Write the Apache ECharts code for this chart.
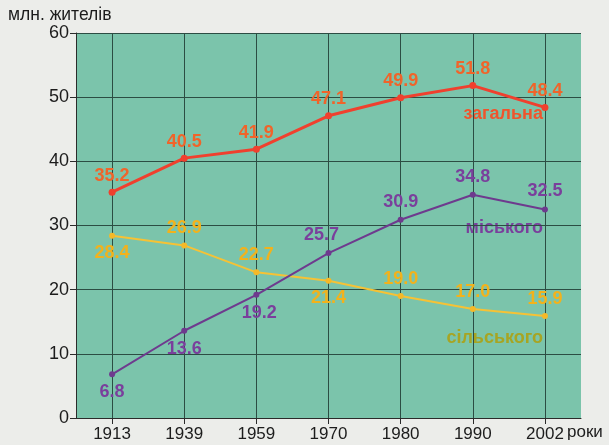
<!DOCTYPE html>
<html><head><meta charset="utf-8">
<script src="https://cdn.jsdelivr.net/npm/echarts@6/dist/echarts.min.js"></script>
<style>html,body{margin:0;padding:0;background:#ecedea;}#c{width:609px;height:445px;}</style>
</head><body><div id="c"></div>
<script>
const years = ['1913','1939','1959','1970','1980','1990','2002'];
const totalPop = [35.2, 40.5, 41.9, 47.1, 49.9, 51.8, 48.4];
const urbanPop = [6.8, 13.6, 19.2, 25.7, 30.9, 34.8, 32.5];
const ruralPop = [28.4, 26.9, 22.7, 21.4, 19.0, 17.0, 15.9];
const yTicks = [0, 10, 20, 30, 40, 50, 60];

const urbanLabelPos = ['bottom','bottom','bottom','top','top','top','top'];
const ruralLabelPos = ['bottom','top','top','bottom','top','top','top'];
const font = '"Liberation Sans", Arial, sans-serif';

function mk(vals, positions, offsets) {
  return vals.map((v, i) => ({
    value: v,
    label: {
      position: positions ? positions[i] : 'top',
      offset: offsets ? offsets[i] : [0, 0]
    }
  }));
}
const fmt = p => Number(p.value).toFixed(1);

const chart = echarts.init(document.getElementById('c'));
chart.setOption({
  backgroundColor: '#ecedea',
  animation: false,
  grid: { left: 76, right: 28, top: 33, bottom: 27, show: true, backgroundColor: '#7bc4ab', borderWidth: 0 },
  xAxis: {
    type: 'category', data: years, boundaryGap: true,
    axisLine: { show: true, lineStyle: { color: '#2b2b2b', width: 1 } },
    axisTick: { show: true, alignWithLabel: true, length: 6, lineStyle: { color: '#2b2b2b' } },
    splitLine: { show: true, alignWithLabel: true, lineStyle: { color: '#2c4d43', width: 1 } },
    axisLabel: { color: '#1c1c1c', fontSize: 17, fontFamily: font, margin: 8 }
  },
  yAxis: {
    type: 'value', min: yTicks[0], max: yTicks[yTicks.length - 1], interval: 10,
    axisLine: { show: true, lineStyle: { color: '#2b2b2b', width: 1 } },
    axisTick: { show: true, length: 6, lineStyle: { color: '#2b2b2b' } },
    splitLine: { show: true, lineStyle: { color: '#2c4d43', width: 1 } },
    axisLabel: { color: '#1c1c1c', fontSize: 18, fontFamily: font, margin: 7 }
  },
  graphic: [
    { type: 'text', left: 8, top: 6, style: { text: 'млн. жителів', fill: '#1c1c1c', font: '17.5px ' + font } },
    { type: 'text', left: 567, top: 424, style: { text: 'роки', fill: '#1c1c1c', font: '17px ' + font } },
    { type: 'text', right: 66, top: 105, style: { text: 'загальна', fill: '#f0542c', font: 'bold 18px ' + font } },
    { type: 'text', right: 66, top: 219, style: { text: 'міського', fill: '#7a3f9c', font: 'bold 18px ' + font } },
    { type: 'text', right: 66, top: 329, style: { text: 'сільського', fill: '#a7a523', font: 'bold 18px ' + font } }
  ],
  series: [
    {
      type: 'line', data: mk(ruralPop, ruralLabelPos, null),
      symbol: 'circle', symbolSize: 6,
      lineStyle: { color: '#f6c235', width: 2 }, itemStyle: { color: '#f5b928' },
      label: { show: true, formatter: fmt, color: '#f2b21c', fontSize: 18, fontWeight: 'bold', fontFamily: font, distance: 5 },
      z: 2
    },
    {
      type: 'line', data: mk(urbanPop, urbanLabelPos, [[0,0],[0,0],[3,0],[-7,0],[0,0],[0,0],[0,0]]),
      symbol: 'circle', symbolSize: 6,
      lineStyle: { color: '#6e3a8e', width: 2 }, itemStyle: { color: '#6e3a8e' },
      label: { show: true, formatter: fmt, color: '#7a3f9c', fontSize: 18, fontWeight: 'bold', fontFamily: font, distance: 6 },
      z: 3
    },
    {
      type: 'line', data: mk(totalPop, null, null),
      symbol: 'circle', symbolSize: 7,
      lineStyle: { color: '#f0402e', width: 3 }, itemStyle: { color: '#f0402e' },
      label: { show: true, formatter: fmt, color: '#f0642a', fontSize: 18, fontWeight: 'bold', fontFamily: font, distance: 4 },
      z: 4
    }
  ]
});
</script></body></html>
